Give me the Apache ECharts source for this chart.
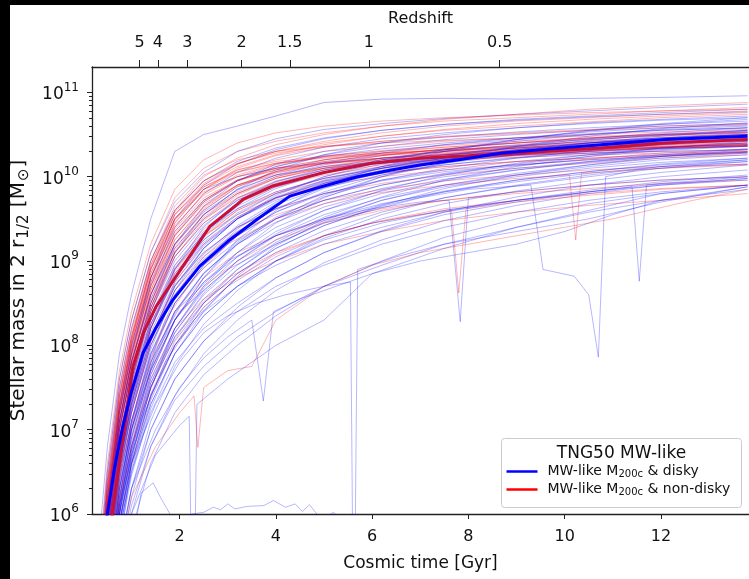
<!DOCTYPE html>
<html>
<head>
<meta charset="utf-8">
<script src="https://cdn.jsdelivr.net/npm/echarts@6.0.0/dist/echarts.min.js"></script>
<style>
  html, body { margin: 0; padding: 0; background: #fff; }
  #chart { width: 749px; height: 579px; }
</style>
</head>
<body>
<div id="chart"></div>
<script>
// cosmic time grid (Gyr) shared by the regular thin tracks
const times = [0.3, 0.5, 0.75, 1.0, 1.4, 1.9, 2.5, 3.2, 4.0, 5.0, 6.2, 7.5, 9.0, 10.5, 12.0, 13.8];

// log10 stellar mass, disky galaxies (blue)
const diskyTracks = [
  [5.5, 6.8, 7.9, 8.6, 9.5, 10.3, 10.5, 10.6, 10.72, 10.88, 10.92, 10.93, 10.92, 10.93, 10.94, 10.96],
  [5.2, 6.5, 7.6, 8.3, 9.1, 9.7, 10.05, 10.3, 10.45, 10.56, 10.63, 10.69, 10.74, 10.78, 10.82, 10.86],
  [5.0, 6.3, 7.4, 8.1, 8.9, 9.5, 9.9, 10.15, 10.32, 10.45, 10.55, 10.62, 10.68, 10.72, 10.76, 10.8],
  [4.9, 6.2, 7.3, 8.0, 8.8, 9.4, 9.8, 10.05, 10.22, 10.35, 10.45, 10.52, 10.58, 10.63, 10.67, 10.7],
  [4.8, 6.1, 7.2, 7.9, 8.7, 9.3, 9.7, 9.95, 10.12, 10.26, 10.36, 10.44, 10.5, 10.55, 10.6, 10.63],
  [4.7, 6.0, 7.1, 7.8, 8.6, 9.2, 9.6, 9.88, 10.06, 10.2, 10.3, 10.38, 10.44, 10.5, 10.55, 10.58],
  [4.6, 5.9, 7.0, 7.7, 8.5, 9.1, 9.5, 9.8, 10.0, 10.14, 10.25, 10.33, 10.4, 10.46, 10.5, 10.54],
  [4.5, 5.8, 6.9, 7.6, 8.4, 9.0, 9.42, 9.72, 9.94, 10.1, 10.22, 10.3, 10.37, 10.42, 10.46, 10.5],
  [4.4, 5.7, 6.8, 7.5, 8.3, 8.9, 9.33, 9.65, 9.88, 10.05, 10.18, 10.27, 10.34, 10.4, 10.44, 10.48],
  [4.3, 5.6, 6.7, 7.4, 8.2, 8.8, 9.25, 9.57, 9.8, 9.98, 10.12, 10.22, 10.3, 10.36, 10.41, 10.45],
  [4.2, 5.5, 6.6, 7.3, 8.1, 8.7, 9.15, 9.5, 9.75, 9.93, 10.07, 10.18, 10.26, 10.32, 10.38, 10.42],
  [4.1, 5.4, 6.5, 7.2, 8.0, 8.6, 9.05, 9.4, 9.67, 9.87, 10.02, 10.14, 10.23, 10.3, 10.35, 10.4],
  [4.0, 5.3, 6.4, 7.1, 7.9, 8.5, 8.95, 9.3, 9.58, 9.8, 9.96, 10.08, 10.18, 10.26, 10.32, 10.37],
  [3.9, 5.2, 6.3, 7.0, 7.8, 8.4, 8.85, 9.2, 9.5, 9.72, 9.9, 10.03, 10.13, 10.21, 10.28, 10.33],
  [3.8, 5.1, 6.2, 6.9, 7.7, 8.3, 8.75, 9.1, 9.4, 9.64, 9.83, 9.97, 10.08, 10.17, 10.24, 10.3],
  [3.7, 5.0, 6.1, 6.8, 7.6, 8.2, 8.65, 9.0, 9.3, 9.55, 9.75, 9.9, 10.02, 10.12, 10.2, 10.26],
  [3.6, 4.9, 6.0, 6.7, 7.5, 8.1, 8.55, 8.9, 9.2, 9.46, 9.67, 9.83, 9.96, 10.06, 10.15, 10.22],
  [3.5, 4.8, 5.9, 6.6, 7.4, 8.0, 8.45, 8.8, 9.1, 9.36, 9.58, 9.75, 9.89, 10.0, 10.1, 10.18],
  [3.4, 4.7, 5.8, 6.5, 7.3, 7.9, 8.35, 8.7, 9.0, 9.27, 9.5, 9.68, 9.83, 9.95, 10.05, 10.14],
  [4.6, 6.0, 7.2, 7.9, 8.8, 9.5, 9.85, 10.0, 10.1, 10.17, 10.22, 10.26, 10.3, 10.33, 10.35, 10.38],
  [3.9, 5.1, 6.3, 7.0, 7.7, 8.3, 8.8, 9.25, 9.6, 9.9, 10.12, 10.3, 10.44, 10.55, 10.63, 10.7],
  [4.2, 5.5, 6.6, 7.3, 8.2, 8.9, 9.4, 9.75, 9.95, 10.08, 10.16, 10.21, 10.25, 10.28, 10.3, 10.32],
  [3.6, 4.8, 5.9, 6.7, 7.5, 8.2, 8.7, 9.1, 9.45, 9.75, 10.0, 10.2, 10.36, 10.48, 10.57, 10.64],
  [4.4, 5.7, 6.9, 7.6, 8.4, 9.1, 9.55, 9.85, 10.02, 10.12, 10.18, 10.22, 10.26, 10.3, 10.33, 10.36],
  [3.3, 4.5, 5.6, 6.3, 7.1, 7.75, 8.25, 8.65, 9.0, 9.3, 9.55, 9.75, 9.9, 10.02, 10.12, 10.2],
  [4.7, 6.0, 7.1, 7.8, 8.55, 9.15, 9.55, 9.85, 10.08, 10.26, 10.4, 10.5, 10.58, 10.64, 10.68, 10.72],
  [3.8, 5.0, 6.1, 6.85, 7.65, 8.3, 8.75, 9.05, 9.3, 9.5, 9.68, 9.82, 9.94, 10.04, 10.12, 10.18],
  [4.1, 5.4, 6.5, 7.25, 8.05, 8.7, 9.15, 9.5, 9.78, 10.0, 10.15, 10.26, 10.34, 10.4, 10.45, 10.5],
  [3.5, 4.7, 5.8, 6.55, 7.35, 8.0, 8.5, 8.9, 9.22, 9.5, 9.72, 9.88, 10.0, 10.1, 10.17, 10.22],
  [4.5, 5.8, 7.0, 7.7, 8.5, 9.2, 9.65, 9.95, 10.15, 10.3, 10.4, 10.47, 10.53, 10.58, 10.62, 10.66],
  [3.2, 4.4, 5.5, 6.2, 7.0, 7.6, 8.05, 8.45, 8.8, 9.1, 9.36, 9.58, 9.76, 9.9, 10.0, 10.08],
  [3.0, 4.2, 5.3, 6.0, 6.8, 7.4, 7.9, 8.3, 8.65, 8.98, 9.25, 9.48, 9.66, 9.8, 9.9, 9.98],
  [4.0, 5.3, 6.4, 7.1, 7.95, 8.65, 9.15, 9.5, 9.75, 9.95, 10.1, 10.22, 10.32, 10.4, 10.46, 10.52],
  [4.3, 5.6, 6.75, 7.45, 8.25, 8.85, 9.25, 9.55, 9.8, 10.0, 10.18, 10.32, 10.44, 10.54, 10.62, 10.68],
  [3.7, 4.9, 6.0, 6.75, 7.55, 8.15, 8.6, 8.95, 9.25, 9.52, 9.76, 9.96, 10.12, 10.24, 10.34, 10.42],
  [2.8, 4.0, 5.1, 5.8, 6.6, 7.2, 7.65, 8.0, 8.35, 8.7, 9.0, 9.28, 9.5, 9.68, 9.8, 9.9],
  [4.8, 6.1, 7.25, 7.95, 8.75, 9.35, 9.72, 9.96, 10.12, 10.24, 10.33, 10.4, 10.46, 10.51, 10.55, 10.58],
  [4.2, 5.45, 6.55, 7.25, 8.05, 8.65, 9.08, 9.42, 9.7, 9.92, 10.08, 10.2, 10.29, 10.36, 10.42, 10.46],
  [3.4, 4.6, 5.7, 6.45, 7.25, 7.9, 8.4, 8.82, 9.18, 9.48, 9.72, 9.9, 10.04, 10.14, 10.22, 10.28],
  [5.0, 6.4, 7.5, 8.2, 9.0, 9.6, 9.95, 10.18, 10.34, 10.46, 10.55, 10.62, 10.67, 10.71, 10.74, 10.77],
  [3.9, 5.0, 6.1, 6.8, 7.5, 8.1, 8.5, 8.85, 9.15, 9.42, 9.65, 9.82, 9.96, 10.06, 10.14, 10.2],
  [3.8, 4.9, 5.9, 6.6, 7.3, 7.9, 8.35, 8.7, 9.0, 9.25, 9.45, 9.6, 9.72, 9.82, 9.9, 9.96],
  [3.6, 4.7, 5.8, 6.5, 7.2, 7.8, 8.2, 8.5, 8.8, 9.1, 9.35, 9.55, 9.7, 9.82, 9.92, 10.0],
  [3.5, 4.6, 5.6, 6.3, 7.0, 7.6, 8.05, 8.4, 8.7, 8.95, 9.2, 9.4, 9.58, 9.72, 9.82, 9.9],
  [3.3, 4.4, 5.4, 6.1, 6.8, 7.35, 7.75, 8.1, 8.4, 8.7, 8.95, 9.2, 9.4, 9.58, 9.72, 9.85],
  [3.9, 5.0, 6.0, 6.7, 7.4, 8.0, 8.4, 8.7, 8.95, 9.2, 9.4, 9.58, 9.72, 9.84, 9.94, 10.02],
  [4.4, 5.6, 6.7, 7.45, 8.25, 8.8, 9.2, 9.5, 9.74, 9.94, 10.1, 10.22, 10.32, 10.4, 10.46, 10.5],
  [4.0, 5.25, 6.35, 7.1, 7.9, 8.55, 9.0, 9.38, 9.68, 9.92, 10.1, 10.24, 10.35, 10.43, 10.5, 10.55],
  [4.3, 5.5, 6.6, 7.35, 8.15, 8.75, 9.18, 9.5, 9.72, 9.9, 10.04, 10.14, 10.22, 10.28, 10.33, 10.37],
  [3.7, 4.95, 6.05, 6.8, 7.65, 8.3, 8.8, 9.2, 9.5, 9.78, 10.0, 10.16, 10.3, 10.4, 10.48, 10.55],
  [4.5, 5.75, 6.85, 7.55, 8.35, 8.95, 9.35, 9.62, 9.82, 9.98, 10.1, 10.2, 10.28, 10.35, 10.4, 10.44],
  [4.1, 5.35, 6.45, 7.2, 8.0, 8.6, 9.02, 9.35, 9.62, 9.86, 10.06, 10.2, 10.31, 10.39, 10.45, 10.5],
  [3.9, 5.15, 6.25, 7.0, 7.85, 8.5, 8.95, 9.3, 9.58, 9.82, 10.02, 10.16, 10.26, 10.34, 10.4, 10.45],
  [4.6, 5.9, 7.0, 7.7, 8.45, 9.05, 9.45, 9.72, 9.92, 10.08, 10.2, 10.3, 10.38, 10.44, 10.49, 10.53],
  [3.6, 4.8, 5.9, 6.65, 7.5, 8.15, 8.62, 9.0, 9.32, 9.6, 9.84, 10.02, 10.16, 10.26, 10.34, 10.4],
  [4.2, 5.45, 6.55, 7.3, 8.1, 8.72, 9.1, 9.4, 9.62, 9.8, 9.95, 10.06, 10.14, 10.2, 10.25, 10.29],
  [3.8, 5.05, 6.15, 6.9, 7.72, 8.38, 8.85, 9.22, 9.52, 9.76, 9.96, 10.1, 10.22, 10.31, 10.38, 10.44],
  [4.4, 5.65, 6.75, 7.5, 8.3, 8.92, 9.32, 9.62, 9.86, 10.05, 10.2, 10.32, 10.42, 10.5, 10.56, 10.6],
  [3.5, 4.75, 5.85, 6.6, 7.42, 8.05, 8.5, 8.85, 9.15, 9.42, 9.66, 9.86, 10.02, 10.14, 10.24, 10.32],
  [4.0, 5.2, 6.3, 7.05, 7.88, 8.5, 8.92, 9.24, 9.5, 9.72, 9.9, 10.04, 10.15, 10.24, 10.31, 10.36],
  [4.7, 6.0, 7.1, 7.8, 8.6, 9.2, 9.58, 9.84, 10.02, 10.16, 10.28, 10.38, 10.46, 10.53, 10.58, 10.62],
  [3.7, 4.9, 6.0, 6.75, 7.55, 8.2, 8.68, 9.05, 9.35, 9.6, 9.8, 9.95, 10.08, 10.18, 10.26, 10.33],
  [4.3, 5.55, 6.65, 7.4, 8.2, 8.82, 9.22, 9.52, 9.76, 9.96, 10.12, 10.25, 10.36, 10.45, 10.52, 10.58],
  [3.9, 5.1, 6.2, 6.95, 7.75, 8.4, 8.86, 9.2, 9.46, 9.68, 9.86, 10.0, 10.1, 10.18, 10.24, 10.29]
];

// log10 stellar mass, non-disky galaxies (red)
const nonDiskyTracks = [
  [5.2, 6.5, 7.6, 8.3, 9.1, 9.75, 10.1, 10.3, 10.42, 10.52, 10.6, 10.66, 10.7, 10.74, 10.78, 10.82],
  [4.9, 6.2, 7.3, 8.0, 8.8, 9.45, 9.85, 10.1, 10.25, 10.35, 10.42, 10.48, 10.52, 10.56, 10.6, 10.63],
  [4.7, 6.0, 7.1, 7.8, 8.6, 9.25, 9.65, 9.9, 10.05, 10.15, 10.22, 10.28, 10.33, 10.37, 10.4, 10.43],
  [4.5, 5.8, 6.9, 7.6, 8.45, 9.1, 9.5, 9.75, 9.92, 10.05, 10.14, 10.2, 10.26, 10.3, 10.34, 10.37],
  [4.8, 6.1, 7.2, 7.9, 8.7, 9.35, 9.72, 9.95, 10.08, 10.18, 10.25, 10.3, 10.34, 10.38, 10.41, 10.44],
  [4.4, 5.6, 6.7, 7.4, 8.25, 8.9, 9.3, 9.55, 9.75, 9.9, 10.0, 10.08, 10.14, 10.2, 10.24, 10.28],
  [5.0, 6.3, 7.4, 8.1, 8.95, 9.6, 10.0, 10.22, 10.38, 10.5, 10.6, 10.68, 10.74, 10.8, 10.84, 10.88],
  [4.6, 5.9, 7.0, 7.7, 8.5, 9.15, 9.55, 9.8, 9.98, 10.1, 10.18, 10.24, 10.28, 10.32, 10.35, 10.38],
  [4.3, 5.5, 6.6, 7.3, 8.1, 8.7, 9.1, 9.4, 9.62, 9.8, 9.92, 10.02, 10.1, 10.16, 10.22, 10.26],
  [4.0, 5.2, 6.3, 7.0, 7.8, 8.4, 8.8, 9.1, 9.3, 9.48, 9.62, 9.72, 9.8, 9.86, 9.92, 9.96],
  [4.7, 6.0, 7.1, 7.85, 8.7, 9.4, 9.8, 10.02, 10.15, 10.25, 10.3, 10.35, 10.4, 10.44, 10.48, 10.5],
  [4.5, 5.7, 6.8, 7.55, 8.4, 9.05, 9.48, 9.78, 9.98, 10.12, 10.22, 10.3, 10.36, 10.42, 10.46, 10.5],
  [3.8, 5.0, 6.1, 6.8, 7.6, 8.2, 8.55, 8.8, 9.0, 9.2, 9.35, 9.48, 9.58, 9.66, 9.72, 9.8],
  [5.1, 6.4, 7.5, 8.2, 9.0, 9.6, 9.95, 10.15, 10.3, 10.4, 10.48, 10.55, 10.6, 10.65, 10.7, 10.74],
  [4.2, 5.4, 6.5, 7.2, 8.0, 8.65, 9.05, 9.35, 9.55, 9.72, 9.85, 9.95, 10.02, 10.08, 10.12, 10.15],
  [4.6, 5.9, 7.0, 7.75, 8.6, 9.3, 9.7, 9.95, 10.1, 10.2, 10.27, 10.32, 10.36, 10.4, 10.43, 10.46],
  [3.9, 5.1, 6.2, 6.9, 7.7, 8.3, 8.7, 9.0, 9.25, 9.45, 9.6, 9.72, 9.82, 9.9, 9.96, 10.0],
  [4.8, 6.1, 7.2, 7.9, 8.75, 9.45, 9.85, 10.08, 10.2, 10.3, 10.36, 10.42, 10.46, 10.5, 10.53, 10.56],
  [5.0, 6.35, 7.45, 8.15, 9.0, 9.65, 10.02, 10.2, 10.3, 10.36, 10.4, 10.43, 10.46, 10.48, 10.5, 10.52],
  [4.6, 5.95, 7.05, 7.8, 8.65, 9.3, 9.68, 9.9, 10.02, 10.1, 10.16, 10.2, 10.23, 10.26, 10.28, 10.3],
  [4.9, 6.25, 7.35, 8.05, 8.9, 9.55, 9.9, 10.12, 10.26, 10.38, 10.48, 10.56, 10.63, 10.68, 10.72, 10.76],
  [4.4, 5.7, 6.85, 7.6, 8.45, 9.12, 9.55, 9.82, 10.0, 10.12, 10.2, 10.26, 10.3, 10.33, 10.36, 10.38],
  [4.7, 6.05, 7.15, 7.9, 8.8, 9.5, 9.88, 10.08, 10.18, 10.24, 10.28, 10.31, 10.34, 10.36, 10.38, 10.4],
  [4.2, 5.5, 6.6, 7.35, 8.2, 8.85, 9.28, 9.6, 9.82, 9.98, 10.1, 10.18, 10.25, 10.3, 10.34, 10.38],
  [5.3, 6.6, 7.7, 8.4, 9.2, 9.85, 10.2, 10.4, 10.52, 10.6, 10.66, 10.7, 10.73, 10.76, 10.78, 10.8],
  [4.5, 5.85, 6.95, 7.7, 8.55, 9.2, 9.62, 9.9, 10.06, 10.16, 10.22, 10.26, 10.3, 10.32, 10.34, 10.36],
  [4.8, 6.15, 7.25, 8.0, 8.85, 9.5, 9.82, 10.0, 10.1, 10.16, 10.2, 10.23, 10.26, 10.28, 10.3, 10.32],
  [4.1, 5.35, 6.45, 7.2, 8.05, 8.75, 9.2, 9.52, 9.75, 9.92, 10.04, 10.12, 10.18, 10.22, 10.26, 10.3],
  [4.9, 6.2, 7.3, 8.05, 8.9, 9.55, 9.92, 10.15, 10.3, 10.42, 10.52, 10.6, 10.66, 10.7, 10.74, 10.78],
  [3.6, 4.8, 5.9, 6.6, 7.4, 8.0, 8.45, 8.8, 9.08, 9.3, 9.48, 9.62, 9.72, 9.8, 9.86, 9.9],
  [4.8, 6.1, 7.2, 7.95, 8.8, 9.42, 9.78, 10.0, 10.14, 10.24, 10.31, 10.37, 10.42, 10.46, 10.5, 10.53],
  [4.6, 5.9, 7.0, 7.75, 8.6, 9.25, 9.64, 9.9, 10.06, 10.18, 10.26, 10.32, 10.37, 10.41, 10.44, 10.47],
  [4.4, 5.75, 6.85, 7.6, 8.45, 9.1, 9.52, 9.8, 9.98, 10.1, 10.18, 10.24, 10.28, 10.31, 10.34, 10.36],
  [4.9, 6.2, 7.3, 8.05, 8.92, 9.55, 9.88, 10.06, 10.16, 10.23, 10.28, 10.32, 10.35, 10.38, 10.4, 10.42],
  [4.5, 5.8, 6.9, 7.65, 8.5, 9.18, 9.6, 9.88, 10.04, 10.16, 10.25, 10.33, 10.4, 10.46, 10.51, 10.55],
  [4.7, 6.0, 7.1, 7.85, 8.72, 9.38, 9.75, 9.96, 10.08, 10.16, 10.22, 10.27, 10.31, 10.34, 10.37, 10.4],
  [4.3, 5.6, 6.7, 7.45, 8.3, 8.95, 9.38, 9.68, 9.88, 10.02, 10.12, 10.2, 10.26, 10.31, 10.35, 10.39],
  [5.0, 6.3, 7.4, 8.1, 8.95, 9.58, 9.95, 10.16, 10.28, 10.36, 10.42, 10.47, 10.51, 10.55, 10.58, 10.61],
  [4.6, 5.95, 7.05, 7.8, 8.65, 9.32, 9.72, 9.96, 10.1, 10.2, 10.28, 10.35, 10.4, 10.45, 10.49, 10.52],
  [4.2, 5.5, 6.6, 7.35, 8.2, 8.88, 9.3, 9.6, 9.8, 9.95, 10.05, 10.12, 10.18, 10.22, 10.26, 10.29],
  [4.8, 6.15, 7.25, 8.0, 8.85, 9.48, 9.85, 10.05, 10.16, 10.22, 10.26, 10.29, 10.32, 10.34, 10.36, 10.38],
  [4.4, 5.7, 6.8, 7.55, 8.4, 9.05, 9.45, 9.74, 9.94, 10.08, 10.18, 10.26, 10.32, 10.37, 10.41, 10.44]
];

// irregular tracks read point by point: [time, log10 mass]
const diskyIrregular = [
  [[0.9, 5.3], [1.2, 6.25], [1.45, 6.37], [1.6, 6.2], [1.75, 6.05], [1.9, 5.9]],
  [[2.1, 5.8], [2.25, 6.0], [2.5, 6.02], [2.7, 6.08], [2.85, 6.05], [3.0, 6.12], [3.15, 6.06], [3.4, 6.09], [3.75, 6.1], [3.95, 6.16], [4.2, 6.08], [4.4, 6.12], [4.55, 6.03], [4.7, 6.11], [4.85, 6.0], [5.0, 5.95], [5.2, 6.02], [5.4, 5.9]],
  [[0.6, 5.0], [1.0, 6.6], [1.5, 7.3], [2.0, 7.8], [2.5, 8.15], [3.0, 8.35], [3.6, 8.5], [4.2, 8.6], [5.0, 8.7], [5.55, 8.75], [5.62, 4.0], [5.7, 8.9], [6.5, 9.05], [7.5, 9.2], [9.0, 9.35], [10.5, 9.5], [12.0, 9.7], [13.8, 9.88]],
  [[0.5, 5.0], [1.0, 7.0], [1.5, 7.9], [2.0, 8.4], [3.0, 8.9], [4.0, 9.2], [5.0, 9.45], [6.0, 9.6], [7.0, 9.75], [8.0, 9.85], [9.3, 9.9], [9.55, 8.9], [10.2, 8.82], [10.5, 8.6], [10.7, 7.86], [10.85, 10.0], [11.5, 10.08], [12.5, 10.12], [13.8, 10.15]],
  [[0.5, 5.2], [1.0, 7.1], [1.5, 7.95], [2.0, 8.45], [3.0, 9.0], [4.0, 9.3], [5.0, 9.5], [6.0, 9.62], [7.0, 9.7], [7.6, 9.72], [7.83, 8.28], [8.0, 9.75], [9.0, 9.82], [10.5, 9.9], [12.0, 9.96], [13.8, 10.0]],
  [[0.5, 5.0], [0.8, 6.2], [1.2, 7.1], [1.7, 7.8], [2.3, 8.3], [3.0, 8.7], [4.0, 9.05], [5.0, 9.3], [6.0, 9.45], [7.5, 9.6], [9.0, 9.72], [10.5, 9.82], [11.4, 9.88], [11.55, 8.76], [11.7, 9.9], [13.8, 9.98]],
  [[0.6, 5.0], [1.0, 6.3], [1.5, 7.0], [2.0, 7.5], [2.5, 7.85], [3.0, 8.1], [3.5, 8.3], [3.74, 7.34], [3.95, 8.4], [4.5, 8.55], [5.0, 8.65], [6.0, 8.85], [7.0, 9.0], [8.0, 9.1], [9.0, 9.2], [10.0, 9.35], [11.0, 9.55], [12.0, 9.72], [13.8, 9.88]],
  [[0.6, 4.8], [1.0, 6.0], [1.5, 6.7], [2.0, 7.05], [2.2, 7.16], [2.28, 4.0], [2.36, 7.3], [3.0, 7.6], [4.0, 8.0], [5.0, 8.3], [6.0, 8.85], [7.5, 9.15], [9.0, 9.4], [10.5, 9.6], [12.0, 9.8], [13.8, 9.9]]
];
const nonDiskyIrregular = [
  [[0.6, 5.0], [1.0, 6.2], [1.5, 6.8], [2.0, 7.2], [2.3, 7.4], [2.38, 6.79], [2.5, 7.5], [3.0, 7.7], [3.5, 7.75], [4.0, 8.3], [4.5, 8.5], [5.0, 8.7], [6.0, 8.95], [7.0, 9.1], [8.0, 9.2], [9.5, 9.35], [11.0, 9.5], [12.5, 9.7], [13.8, 9.85]],
  [[0.5, 5.1], [0.8, 6.3], [1.2, 7.2], [1.7, 7.9], [2.3, 8.4], [3.0, 8.8], [4.0, 9.1], [5.0, 9.3], [6.0, 9.45], [7.0, 9.55], [7.65, 9.6], [7.8, 8.62], [7.95, 9.62], [9.0, 9.7], [10.5, 9.78], [12.0, 9.85], [13.8, 9.9]],
  [[0.5, 5.3], [0.8, 6.6], [1.2, 7.5], [1.7, 8.3], [2.3, 8.8], [3.0, 9.2], [4.0, 9.5], [5.0, 9.68], [6.0, 9.8], [7.5, 9.9], [9.0, 9.98], [10.1, 10.02], [10.23, 9.25], [10.35, 10.04], [12.0, 10.1], [13.8, 10.14]]
];

// medians
const diskyMedian = [[0.45, 5.8], [0.5, 6.0], [0.65, 6.55], [0.82, 7.04], [1.0, 7.45], [1.24, 7.91], [1.5, 8.2], [1.86, 8.54], [2.42, 8.94], [3.04, 9.25], [3.6, 9.49], [4.29, 9.77], [5.0, 9.89], [5.7, 10.0], [6.4, 10.08], [7.0, 10.14], [7.8, 10.2], [8.7, 10.28], [9.7, 10.33], [10.75, 10.38], [12.1, 10.44], [13.8, 10.48]];
const nonDiskyMedian = [[0.55, 5.8], [0.6, 6.0], [0.75, 6.6], [0.9, 7.2], [1.03, 7.75], [1.25, 8.15], [1.51, 8.46], [2.07, 8.94], [2.63, 9.41], [3.32, 9.73], [3.94, 9.89], [5.0, 10.05], [6.0, 10.16], [7.0, 10.22], [8.7, 10.27], [10.75, 10.34], [12.1, 10.4], [13.8, 10.44]];

// top axis: redshift labels and the cosmic time where they sit
const redshiftLabels = ['5', '4', '3', '2', '1.5', '1', '0.5'];
const redshiftTimes = [1.17, 1.55, 2.16, 3.29, 4.29, 5.93, 8.65];
const timeTicks = [2, 4, 6, 8, 10, 12];
const massDecades = [6, 7, 8, 9, 10, 11];

const FONT = 'DejaVu Sans';
const BLUE = '#0000ff';
const RED = '#ff0000';

const minorTicks = [];
massDecades.forEach((d) => {
  for (let k = 2; k <= 9; k++) {
    const v = d + Math.log10(k);
    if (v < 11.3) minorTicks.push(v);
  }
});

const thin = (color, data) => ({
  type: 'line',
  data,
  symbol: 'none',
  silent: true,
  lineStyle: { color, width: 0.8, opacity: 0.36 },
  z: 2
});

const series = [];
const nMax = Math.max(diskyTracks.length, nonDiskyTracks.length);
for (let i = 0; i < nMax; i++) {
  if (diskyTracks[i]) series.push(thin(BLUE, times.map((t, j) => [t, diskyTracks[i][j]])));
  if (nonDiskyTracks[i]) series.push(thin(RED, times.map((t, j) => [t, nonDiskyTracks[i][j]])));
}
diskyIrregular.forEach((d) => series.push(thin(BLUE, d)));
nonDiskyIrregular.forEach((d) => series.push(thin(RED, d)));
series.push({
  type: 'line', data: nonDiskyMedian, symbol: 'none', silent: true,
  lineStyle: { color: '#c8103c', width: 3 }, z: 3
});
series.push({
  type: 'line', data: diskyMedian, symbol: 'none', silent: true,
  lineStyle: { color: BLUE, width: 3 }, z: 4
});

const chart = echarts.init(document.getElementById('chart'));
chart.setOption({
  animation: false,
  backgroundColor: '#fff',
  grid: { left: 92, top: 67, right: 0, bottom: 65 },
  xAxis: [
    {
      type: 'value', min: 0.18, max: 13.83, position: 'bottom',
      name: 'Cosmic time [Gyr]', nameLocation: 'middle', nameGap: 41,
      nameTextStyle: { fontFamily: FONT, fontSize: 17, color: '#111' },
      axisLine: { lineStyle: { color: '#222', width: 1.3 } },
      axisTick: { customValues: timeTicks, length: 5, lineStyle: { color: '#222' } },
      axisLabel: { customValues: timeTicks, fontFamily: FONT, fontSize: 16, color: '#111', margin: 15 },
      splitLine: { show: false }
    },
    {
      type: 'value', min: 0.18, max: 13.83, position: 'top',
      name: 'Redshift', nameLocation: 'middle', nameGap: 40,
      nameTextStyle: { fontFamily: FONT, fontSize: 16, color: '#111' },
      axisLine: { lineStyle: { color: '#222', width: 1.3 } },
      axisTick: { customValues: redshiftTimes, length: 7, lineStyle: { color: '#222' } },
      axisLabel: {
        customValues: redshiftTimes, fontFamily: FONT, fontSize: 16, color: '#111', margin: 16,
        formatter: (v) => {
          const i = redshiftTimes.findIndex((t) => Math.abs(t - v) < 1e-6);
          return i >= 0 ? redshiftLabels[i] : '';
        }
      },
      splitLine: { show: false }
    }
  ],
  yAxis: [
    {
      type: 'value', min: 6, max: 11.301,
      name: 'Stellar mass in 2 r{sub|1/2} [M{sub|⊙}]', nameLocation: 'middle', nameGap: 47, nameRotate: 90,
      nameTextStyle: {
        fontFamily: FONT, fontSize: 20, color: '#111',
        rich: { sub: { fontFamily: FONT, fontSize: 15, color: '#111', verticalAlign: 'bottom', padding: [9, 1, 0, 1] } }
      },
      axisLine: { lineStyle: { color: '#222', width: 1.3 } },
      axisTick: { customValues: massDecades, length: 5, lineStyle: { color: '#222' } },
      axisLabel: {
        customValues: massDecades, margin: 13, formatter: (v) => '{b|10}{s|' + Math.round(v) + '}',
        rich: {
          b: { fontFamily: FONT, fontSize: 17, color: '#111', lineHeight: 22, verticalAlign: 'bottom' },
          s: { fontFamily: FONT, fontSize: 12, color: '#111', verticalAlign: 'top', lineHeight: 22 }
        }
      },
      splitLine: { show: false }
    },
    {
      type: 'value', min: 6, max: 11.301, position: 'left',
      axisLine: { show: false },
      axisTick: { customValues: minorTicks, length: 3, lineStyle: { color: '#222' } },
      axisLabel: { show: false },
      splitLine: { show: false }
    }
  ],
  series,
  graphic: [
    { type: 'rect', shape: { x: 0, y: 0, width: 10, height: 579 }, style: { fill: '#000' }, z: 100 },
    { type: 'rect', shape: { x: 0, y: 0, width: 749, height: 5 }, style: { fill: '#000' }, z: 100 },
    {
      type: 'group', left: 501, top: 438, z: 100,
      children: [
        { type: 'rect', shape: { x: 0, y: 0, width: 240, height: 69, r: 3 }, style: { fill: 'rgba(255,255,255,0.9)', stroke: '#ccc', lineWidth: 1 } },
        { type: 'text', x: 120, y: 15, style: { text: 'TNG50 MW-like', font: '17px "DejaVu Sans"', fill: '#111', align: 'center', verticalAlign: 'middle' } },
        { type: 'line', shape: { x1: 5, y1: 33, x2: 36, y2: 33 }, style: { stroke: BLUE, lineWidth: 2.5 } },
        { type: 'line', shape: { x1: 5, y1: 51, x2: 36, y2: 51 }, style: { stroke: RED, lineWidth: 2.5 } },
        {
          type: 'text', x: 46, y: 33,
          style: {
            text: 'MW-like M{sub|200c} & disky', font: '14px "DejaVu Sans"', fill: '#111', verticalAlign: 'middle',
            rich: { sub: { font: '10px "DejaVu Sans"', fill: '#111', verticalAlign: 'bottom', padding: [6, 0, 0, 0] } }
          }
        },
        {
          type: 'text', x: 46, y: 51,
          style: {
            text: 'MW-like M{sub|200c} & non-disky', font: '14px "DejaVu Sans"', fill: '#111', verticalAlign: 'middle',
            rich: { sub: { font: '10px "DejaVu Sans"', fill: '#111', verticalAlign: 'bottom', padding: [6, 0, 0, 0] } }
          }
        }
      ]
    }
  ]
});
</script>
</body>
</html>
